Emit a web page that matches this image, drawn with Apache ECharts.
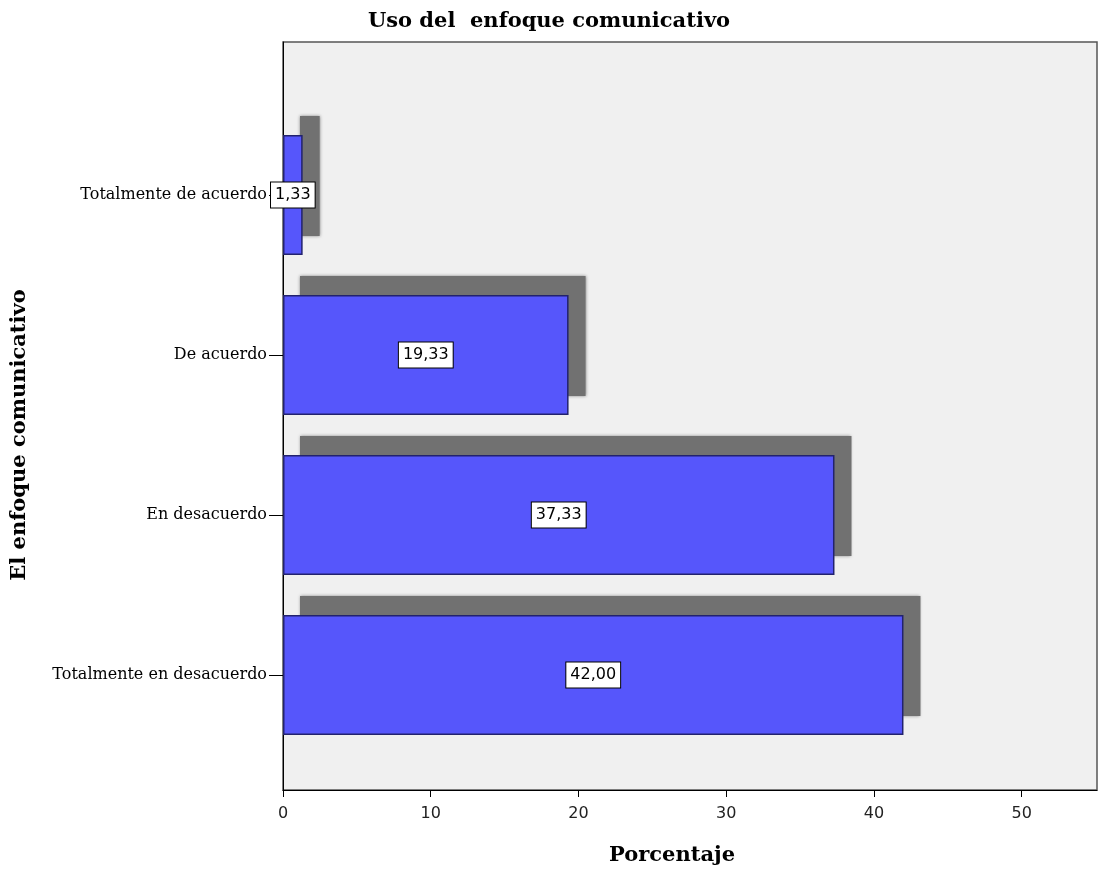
<!DOCTYPE html>
<html>
<head>
<meta charset="utf-8">
<script src="https://cdn.jsdelivr.net/npm/echarts@6/dist/echarts.min.js"></script>
<style>
  html, body { margin: 0; padding: 0; background: #ffffff; }
  #chart { width: 1099px; height: 870px; }
</style>
</head>
<body>
<div id="chart"></div>
<script>
// Response categories, top to bottom
const categories = ['Totalmente de acuerdo', 'De acuerdo', 'En desacuerdo', 'Totalmente en desacuerdo'];
// Percentage for each category
const percentages = [1.33, 19.33, 37.33, 42.00];
// Percentage axis range and step
const axisMin = 0;
const axisMax = 55.1;
const axisStep = 10;

const chart = echarts.init(document.getElementById('chart'), null, { renderer: 'canvas' });

const titleFont = 'bold 21px "DejaVu Serif"';
const BAR_RATIO = 0.75;          // bar thickness as share of the category band
const SHADOW_DX = 17, SHADOW_DY = -19;

// drop-shadow block drawn behind each bar, offset up and to the right
function renderShadow(params, api) {
  const cat = api.value(1);
  const end = api.coord([api.value(0), cat]);
  const start = api.coord([0, cat]);
  const h = api.size([0, 1])[1] * BAR_RATIO;
  return {
    type: 'rect',
    shape: { x: start[0] + SHADOW_DX, y: end[1] - h / 2 + SHADOW_DY, width: end[0] - start[0], height: h },
    style: { fill: '#717171', shadowColor: 'rgba(110,110,110,0.8)', shadowBlur: 3 }
  };
}

const option = {
  backgroundColor: '#ffffff',
  animation: false,
  graphic: [
    {
      type: 'text', x: 549, y: 22,
      style: { text: 'Uso del  enfoque comunicativo', font: titleFont, fill: '#000', textAlign: 'center', textVerticalAlign: 'middle' }
    },
    {
      type: 'text', x: 672, y: 856,
      style: { text: 'Porcentaje', font: titleFont, fill: '#000', textAlign: 'center', textVerticalAlign: 'middle' }
    },
    {
      type: 'text', rotation: Math.PI / 2, x: 20, y: 435,
      style: { text: 'El enfoque comunicativo', font: titleFont, fill: '#000', textAlign: 'center', textVerticalAlign: 'middle' }
    }
  ],
  grid: [
    // plot frame carrying the percentage scale
    { left: 283, right: 2, top: 42, bottom: 80, show: true, backgroundColor: '#f0f0f0', borderColor: '#555', borderWidth: 1.5 },
    // bar area
    { left: 283, right: 2, top: 115, height: 640 }
  ],
  xAxis: [
    {
      gridIndex: 0, type: 'value', min: axisMin, max: axisMax, interval: axisStep,
      axisLine: { show: true, lineStyle: { color: '#000', width: 1 } },
      axisTick: { show: true, inside: false, length: 7, lineStyle: { color: '#000' } },
      axisLabel: { show: true, showMaxLabel: false, margin: 16, color: '#222', fontFamily: 'DejaVu Sans', fontSize: 16 },
      splitLine: { show: false }
    },
    {
      gridIndex: 1, type: 'value', min: axisMin, max: axisMax, show: false
    }
  ],
  yAxis: [
    {
      gridIndex: 0, type: 'value', min: 0, max: 1,
      axisLine: { show: true, lineStyle: { color: '#000', width: 1 } },
      axisTick: { show: false }, axisLabel: { show: false }, splitLine: { show: false }
    },
    {
      gridIndex: 1, type: 'category', data: categories, inverse: true,
      axisLine: { show: false },
      axisTick: { show: true, alignWithLabel: true, length: 14, lineStyle: { color: '#000' } },
      axisLabel: { margin: 16, color: '#000', fontFamily: 'DejaVu Serif', fontSize: 16 }
    }
  ],
  series: [
    {
      type: 'custom',
      xAxisIndex: 1, yAxisIndex: 1,
      data: percentages.map((v, i) => [v, i]),
      encode: { x: 0, y: 1 },
      renderItem: renderShadow,
      z: 1,
      silent: true
    },
    {
      type: 'bar',
      xAxisIndex: 1, yAxisIndex: 1,
      data: percentages,
      barWidth: (BAR_RATIO * 100) + '%',
      z: 2,
      itemStyle: {
        color: '#5656fb',
        borderColor: '#22226e',
        borderWidth: 1.5
      },
      label: {
        show: true,
        position: 'inside',
        formatter: p => p.value.toFixed(2).replace('.', ','),
        color: '#000',
        fontFamily: 'DejaVu Sans',
        fontSize: 16,
        backgroundColor: '#ffffff',
        borderColor: '#000',
        borderWidth: 1,
        padding: [5, 4, 4, 4]
      }
    }
  ]
};

chart.setOption(option);
</script>
</body>
</html>
